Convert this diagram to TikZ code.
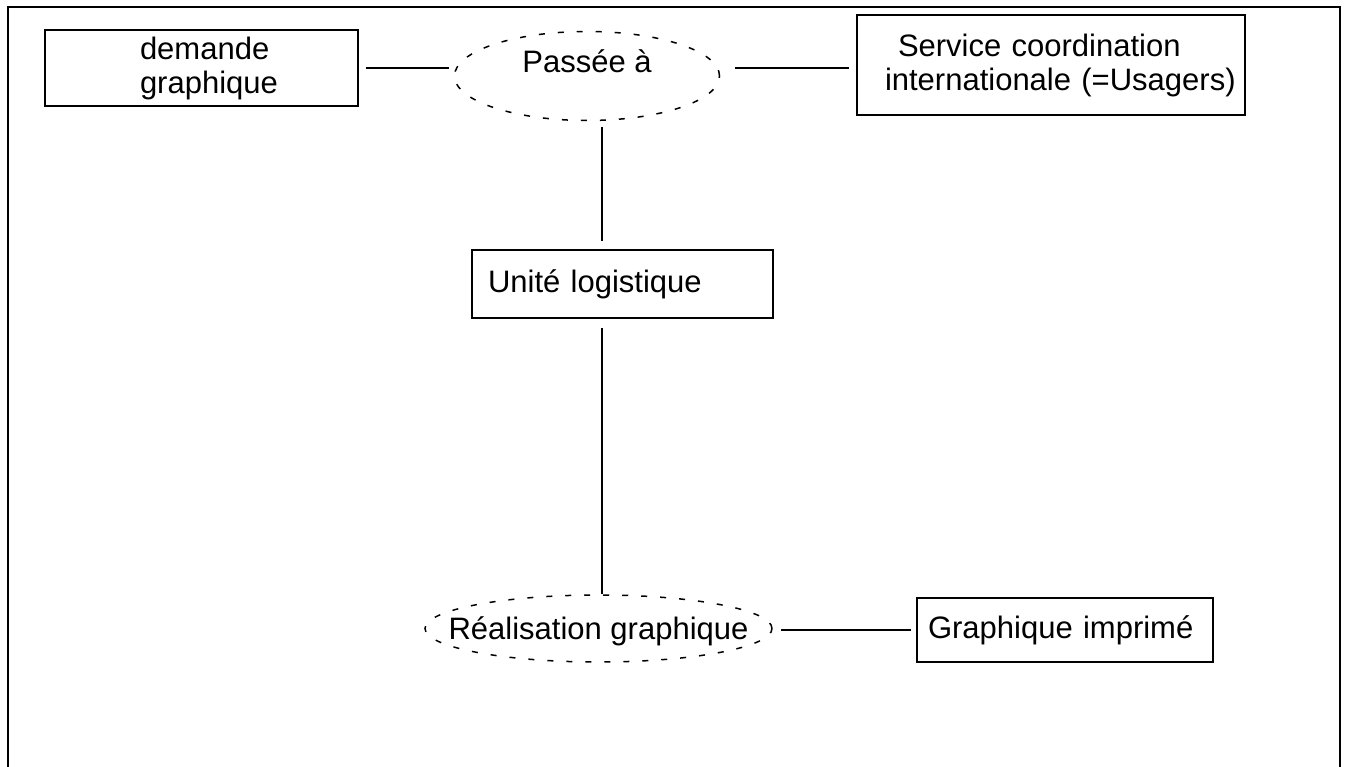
\documentclass[tikz,border=0pt]{standalone}
\usepackage{fontspec}
\setmainfont{Liberation Sans}
\usetikzlibrary{shapes.geometric}
\newcommand{\ztext}[2]{\makebox[0pt]{\raisebox{#1}[0pt][0pt]{#2}}}
\tikzset{
  every node/.style={font=\fontsize{31}{34}\selectfont},
  boxnode/.style={draw, line width=1.4pt, rectangle, inner ysep=0pt},
  ellnode/.style={draw, ellipse, line width=1.5pt, dash pattern=on 6pt off 13pt, inner sep=0pt},
  conn/.style={line width=1.3pt},
  frame/.style={line width=2pt}
}
\begin{document}
\begin{tikzpicture}[x=1pt,y=-1pt]
\useasboundingbox (0,0) rectangle (1349,767);
\draw[frame] (8,767) -- (8,7) -- (1340,7) -- (1340,767);

\node[boxnode, minimum width=313pt, minimum height=76pt, inner xsep=0pt, text width=313pt, align=left]
  (dem) at (201.5,68) {\hspace*{95pt}demande\\\hspace*{95pt}graphique};
\node[ellnode, minimum width=265pt, minimum height=89pt]
  (pass) at (587,76) {\ztext{3pt}{Passée à}};
\node[boxnode, minimum width=388pt, minimum height=100pt, inner xsep=0pt, text width=388pt, align=left]
  (serv) at (1051,65) {\hspace*{41pt}Service coordination\\\hspace*{28pt}internationale (=Usagers)};
\node[boxnode, minimum width=301pt, minimum height=68pt, inner xsep=16pt, text width=269pt, align=left]
  (uni) at (622.5,284) {Unité logistique};
\node[ellnode, minimum width=347pt, minimum height=67pt]
  (real) at (598.5,628.5) {\ztext{-11pt}{Réalisation graphique}};
\node[boxnode, minimum width=296pt, minimum height=64pt, inner xsep=11pt, text width=274pt, align=left]
  (graph) at (1065,630) {Graphique imprimé};

\draw[conn] ([xshift=7pt]dem.east) -- ([xshift=-5pt]dem.east -| pass.west);
\draw[conn] ([xshift=15pt]pass.east |- dem.east) -- ([xshift=-7pt]serv.west |- dem.east);
\draw[conn] ([xshift=15pt,yshift=-6pt]pass.south) -- ([xshift=15pt,yshift=8pt]pass.south |- uni.north);
\draw[conn] ([xshift=-20.5pt,yshift=-9pt]uni.south) -- ([xshift=-20.5pt]uni.south |- real.north);
\draw[conn] ([xshift=8pt]real.east |- graph.west) -- ([xshift=-5pt]graph.west);
\end{tikzpicture}
\end{document}
